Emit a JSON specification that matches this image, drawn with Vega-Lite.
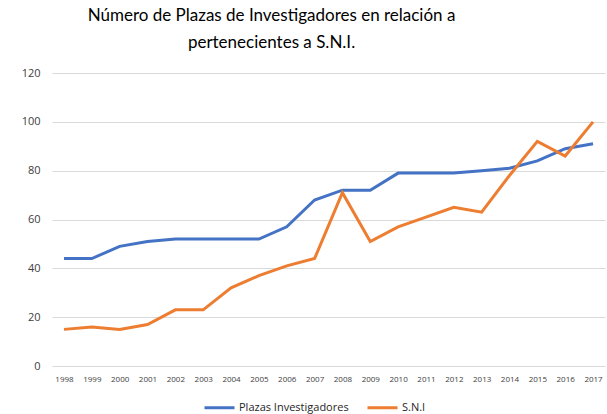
{
  "$schema": "https://vega.github.io/schema/vega-lite/v6.json",
  "width": 553,
  "height": 293,
  "autosize": {"type": "none"},
  "padding": {"left": 52, "top": 73, "right": 2, "bottom": 48},
  "background": "white",
  "title": {
    "text": ["Número de Plazas de  Investigadores en relación a", "pertenecientes a S.N.I."],
    "font": "Lato",
    "fontSize": 17,
    "fontWeight": "normal",
    "color": "#000000",
    "anchor": "middle",
    "dx": -57,
    "offset": 15,
    "lineHeight": 27
  },
  "data": {
    "values": [
      {"year": "1998", "serie": "Plazas Investigadores", "value": 44},
      {"year": "1999", "serie": "Plazas Investigadores", "value": 44},
      {"year": "2000", "serie": "Plazas Investigadores", "value": 49},
      {"year": "2001", "serie": "Plazas Investigadores", "value": 51},
      {"year": "2002", "serie": "Plazas Investigadores", "value": 52},
      {"year": "2003", "serie": "Plazas Investigadores", "value": 52},
      {"year": "2004", "serie": "Plazas Investigadores", "value": 52},
      {"year": "2005", "serie": "Plazas Investigadores", "value": 52},
      {"year": "2006", "serie": "Plazas Investigadores", "value": 57},
      {"year": "2007", "serie": "Plazas Investigadores", "value": 68},
      {"year": "2008", "serie": "Plazas Investigadores", "value": 72},
      {"year": "2009", "serie": "Plazas Investigadores", "value": 72},
      {"year": "2010", "serie": "Plazas Investigadores", "value": 79},
      {"year": "2011", "serie": "Plazas Investigadores", "value": 79},
      {"year": "2012", "serie": "Plazas Investigadores", "value": 79},
      {"year": "2013", "serie": "Plazas Investigadores", "value": 80},
      {"year": "2014", "serie": "Plazas Investigadores", "value": 81},
      {"year": "2015", "serie": "Plazas Investigadores", "value": 84},
      {"year": "2016", "serie": "Plazas Investigadores", "value": 89},
      {"year": "2017", "serie": "Plazas Investigadores", "value": 91},
      {"year": "1998", "serie": "S.N.I", "value": 15},
      {"year": "1999", "serie": "S.N.I", "value": 16},
      {"year": "2000", "serie": "S.N.I", "value": 15},
      {"year": "2001", "serie": "S.N.I", "value": 17},
      {"year": "2002", "serie": "S.N.I", "value": 23},
      {"year": "2003", "serie": "S.N.I", "value": 23},
      {"year": "2004", "serie": "S.N.I", "value": 32},
      {"year": "2005", "serie": "S.N.I", "value": 37},
      {"year": "2006", "serie": "S.N.I", "value": 41},
      {"year": "2007", "serie": "S.N.I", "value": 44},
      {"year": "2008", "serie": "S.N.I", "value": 71},
      {"year": "2009", "serie": "S.N.I", "value": 51},
      {"year": "2010", "serie": "S.N.I", "value": 57},
      {"year": "2011", "serie": "S.N.I", "value": 61},
      {"year": "2012", "serie": "S.N.I", "value": 65},
      {"year": "2013", "serie": "S.N.I", "value": 63},
      {"year": "2014", "serie": "S.N.I", "value": 78},
      {"year": "2015", "serie": "S.N.I", "value": 92},
      {"year": "2016", "serie": "S.N.I", "value": 86},
      {"year": "2017", "serie": "S.N.I", "value": 100}
    ]
  },
  "mark": {"type": "line", "strokeWidth": 3, "strokeJoin": "miter", "strokeCap": "butt"},
  "encoding": {
    "x": {
      "field": "year",
      "type": "ordinal",
      "scale": {"type": "point", "padding": 0.43},
      "axis": {
        "title": null,
        "labelAngle": 0,
        "labelFont": "Open Sans",
        "labelFontSize": 8,
        "labelColor": "#404040",
        "domain": false,
        "ticks": false,
        "grid": false,
        "labelPadding": 9
      }
    },
    "y": {
      "field": "value",
      "type": "quantitative",
      "scale": {"domain": [0, 120]},
      "axis": {
        "title": null,
        "values": [0, 20, 40, 60, 80, 100, 120],
        "labelFont": "Open Sans",
        "labelFontSize": 11,
        "labelColor": "#404040",
        "domain": false,
        "ticks": false,
        "gridColor": "#d9d9d9",
        "gridWidth": 1,
        "labelPadding": 12
      }
    },
    "color": {
      "field": "serie",
      "type": "nominal",
      "scale": {"domain": ["Plazas Investigadores", "S.N.I"], "range": ["#4472C4", "#ED7D31"]},
      "legend": {
        "title": null,
        "orient": "none",
        "direction": "horizontal",
        "legendX": 151,
        "legendY": 318,
        "symbolType": "stroke",
        "symbolSize": 900,
        "symbolStrokeWidth": 3,
        "labelFont": "Open Sans",
        "labelFontSize": 11,
        "labelColor": "#262626",
        "labelOffset": 3,
        "columnPadding": 12,
        "padding": 0
      }
    }
  },
  "config": {"view": {"stroke": null}}
}
